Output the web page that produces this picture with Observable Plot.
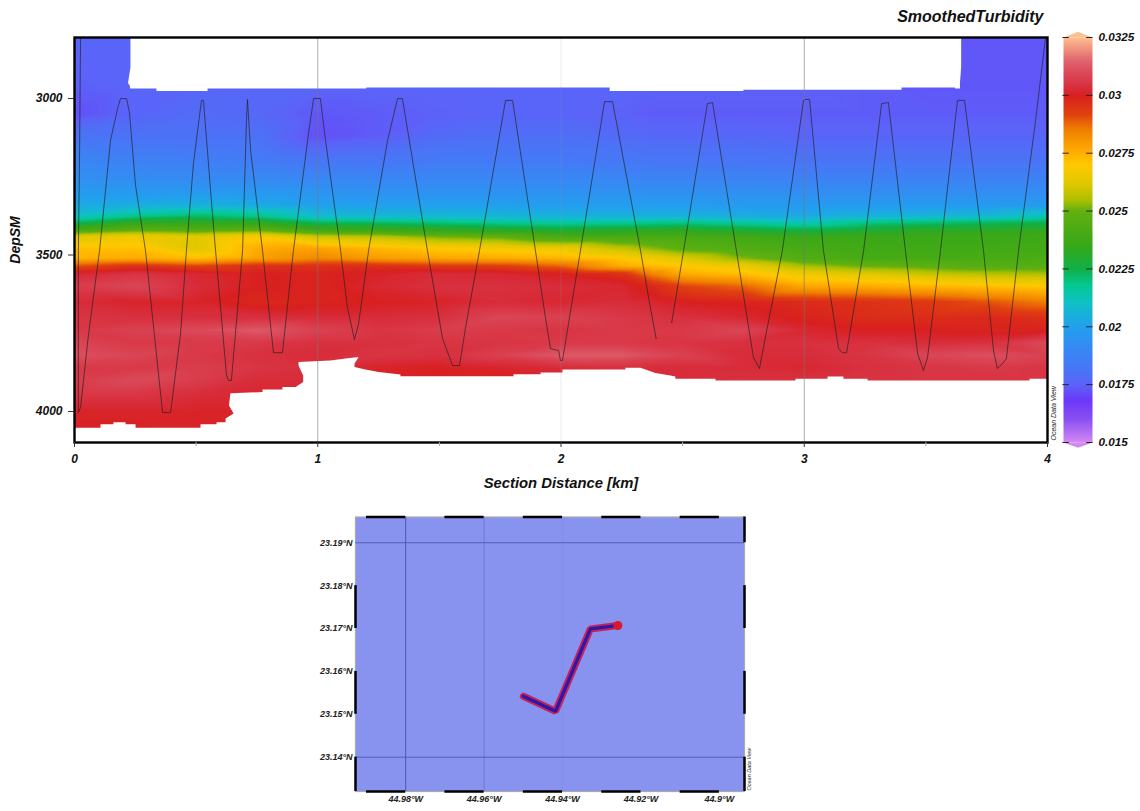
<!DOCTYPE html>
<html>
<head>
<meta charset="utf-8">
<script src="https://cdn.jsdelivr.net/npm/d3@7"></script>
<script src="https://cdn.jsdelivr.net/npm/@observablehq/plot@0.6"></script>
<style>
html,body{margin:0;padding:0;background:#fff}
#page{position:relative;width:1140px;height:811px;overflow:hidden}
#page svg{position:absolute;display:block;background:transparent}
</style>
</head>
<body>
<div id="page"></div>
<script>
// Colour scale
const colorStops = [0.015,0.016,0.0168,0.0175,0.018,0.019,0.02,0.021,0.0218,0.0225,0.0235,0.025,0.0255,0.0262,0.027,0.0275,0.0285,0.0292,0.03,0.0303,0.031,0.0315,0.0325];
const colorHues  = ["#d488f2","#8a50f2","#6c38f8","#5c62f8","#4c72f6","#3888f4","#22a0ee","#10c0c8","#04c890","#10b048","#38a818","#62b010","#b0c000","#e0c800","#ffc800","#ffb000","#f08000","#e04010","#d82020","#d82c3a","#da4a5a","#e0646e","#ffc090"];
const colorTicks = [0.015,0.0175,0.02,0.0225,0.025,0.0275,0.03,0.0325];

// Section grid: turbidity per depth, one list per distance
const gridDepths = [2800,2950,3050,3120,3200,3280,3340,3375,3395,3420,3440,3480,3510,3535,3560,3600,3650,3700,3740,3780,3820,3860,3900,3950,4000,4100];
const gridDistances = [0,0.25,0.5,0.75,1,1.25,1.5,1.75,2,2.25,2.375,2.5,2.75,3,3.25,3.5,3.75,4];
const km000 = [.0176,.0175,.0172,.0181,.0189,.0196,.0203,.0210,.0222,.0240,.0262,.0272,.0274,.0290,.0302,.0307,.0303,.0305,.0306,.0309,.0311,.0306,.0307,.0305,.0301,.0300];
const km025 = [.0176,.0176,.0176,.0180,.0187,.0195,.0204,.0218,.0232,.0248,.0266,.0272,.0276,.0296,.0305,.0309,.0301,.0304,.0308,.0306,.0309,.0306,.0310,.0305,.0301,.0300];
const km050 = [.0176,.0176,.0178,.0180,.0186,.0194,.0205,.0222,.0232,.0245,.0262,.0262,.0272,.0292,.0302,.0303,.0301,.0304,.0310,.0306,.0306,.0307,.0307,.0303,.0301,.0301];
const km075 = [.0176,.0176,.0177,.0180,.0185,.0194,.0203,.0218,.0232,.0248,.0268,.0276,.0278,.0296,.0300,.0300,.0298,.0304,.0313,.0306,.0304,.0305,.0303,.0302,.0301,.0301];
const km100 = [.0176,.0176,.0173,.0172,.0182,.0193,.0200,.0208,.0222,.0238,.0258,.0278,.0283,.0296,.0299,.0299,.0299,.0303,.0308,.0304,.0303,.0304,.0303,.0302,.0301,.0301];
const km125 = [.0176,.0176,.0174,.0174,.0182,.0192,.0200,.0207,.0221,.0236,.0256,.0274,.0279,.0296,.0301,.0302,.0300,.0303,.0305,.0304,.0305,.0301,.0301,.0301,.0301,.0301];
const km150 = [.0176,.0176,.0175,.0178,.0184,.0192,.0200,.0207,.0219,.0233,.0250,.0270,.0277,.0294,.0303,.0304,.0301,.0304,.0307,.0305,.0304,.0300,.0300,.0300,.0300,.0300];
const km175 = [.0176,.0176,.0176,.0179,.0184,.0192,.0200,.0206,.0217,.0230,.0248,.0268,.0276,.0293,.0302,.0304,.0303,.0309,.0306,.0305,.0308,.0301,.0300,.0300,.0300,.0300];
const km200 = [.0176,.0176,.0176,.0179,.0184,.0192,.0199,.0205,.0215,.0228,.0240,.0266,.0274,.0288,.0300,.0303,.0302,.0308,.0305,.0306,.0313,.0303,.0301,.0301,.0301,.0301];
const km225 = [.0176,.0176,.0175,.0178,.0183,.0192,.0199,.0205,.0216,.0230,.0240,.0258,.0270,.0276,.0296,.0302,.0303,.0306,.0306,.0306,.0313,.0304,.0303,.0303,.0303,.0303];
const km2375 = [.0176,.0175,.0174,.0177,.0182,.0191,.0199,.0205,.0217,.0231,.0240,.0253,.0266,.0273,.0284,.0298,.0302,.0305,.0306,.0305,.0310,.0303,.0303,.0303,.0303,.0303];
const km250 = [.0176,.0175,.0174,.0177,.0182,.0191,.0199,.0205,.0218,.0232,.0240,.0248,.0262,.0270,.0276,.0292,.0300,.0304,.0306,.0305,.0308,.0303,.0303,.0303,.0303,.0303];
const km275 = [.0176,.0175,.0174,.0177,.0182,.0191,.0198,.0204,.0215,.0228,.0238,.0244,.0252,.0265,.0272,.0288,.0299,.0302,.0309,.0304,.0303,.0303,.0304,.0304,.0304,.0304];
const km300 = [.0175,.0175,.0174,.0176,.0181,.0190,.0198,.0203,.0212,.0225,.0235,.0240,.0244,.0255,.0265,.0277,.0297,.0299,.0302,.0304,.0303,.0302,.0304,.0304,.0304,.0304];
const km325 = [.0174,.0174,.0174,.0176,.0181,.0190,.0198,.0205,.0218,.0228,.0236,.0238,.0240,.0250,.0262,.0276,.0296,.0297,.0300,.0304,.0305,.0304,.0305,.0305,.0305,.0305];
const km350 = [.0173,.0173,.0174,.0176,.0181,.0190,.0198,.0206,.0220,.0232,.0236,.0238,.0240,.0248,.0258,.0274,.0294,.0297,.0300,.0303,.0309,.0305,.0305,.0305,.0305,.0305];
const km375 = [.0173,.0173,.0174,.0176,.0181,.0190,.0198,.0207,.0222,.0232,.0236,.0238,.0241,.0245,.0256,.0272,.0290,.0298,.0299,.0304,.0311,.0306,.0305,.0305,.0305,.0305];
const km400 = [.0173,.0173,.0174,.0176,.0181,.0190,.0198,.0212,.0224,.0233,.0237,.0239,.0242,.0246,.0255,.0270,.0285,.0296,.0299,.0310,.0308,.0305,.0305,.0305,.0305,.0305];
const gridColumns = [km000,km025,km050,km075,km100,km125,km150,km175,km200,km225,km2375,km250,km275,km300,km325,km350,km375,km400];

// Areas without data
const topMaskKm = [0.23,0.23,0.22,0.228,0.228,0.337,0.337,0.547,0.547,1.2,1.2,2.2,2.2,2.75,2.75,3.4,3.4,3.62,3.62,3.64,3.64,3.645,3.645];
const topMaskDep = [2805,2900,2950,2960,2968,2968,2976,2976,2968,2968,2965,2965,2976,2976,2972,2972,2965,2965,2968,2968,2950,2900,2805];
const bottomMaskKm = [0,0,0.107,0.107,0.16,0.16,0.21,0.21,0.251,0.251,0.518,0.518,0.584,0.584,0.621,0.621,0.654,0.635,0.641,0.773,0.773,0.855,0.855,0.909,0.94,0.94,0.921,0.921,1.052,1.114,1.168,1.151,1.151,1.196,1.25,1.34,1.34,1.805,1.805,1.916,1.916,2.006,2.006,2.265,2.265,2.327,2.347,2.388,2.45,2.47,2.47,2.635,2.635,2.964,2.964,3.096,3.096,3.161,3.161,3.26,3.26,3.926,3.926,4,4];
const bottomMaskDep = [4099,4052,4052,4041,4041,4034,4034,4041,4041,4052,4052,4041,4041,4034,4034,4022,4006,3981,3942,3938,3930,3930,3922,3922,3906,3885,3853,3842,3837,3831,3826,3847,3858,3866,3874,3882,3887,3887,3881,3881,3875,3875,3866,3866,3860,3860,3866,3877,3885,3888,3895,3895,3901,3901,3895,3895,3888,3888,3895,3895,3901,3901,3895,3895,4099];

// CTD track on the section
const trackKm1 = [.025,.021,.016,.016,.025,.058,.103,.148,.177,.189,.214,.226,.251,.292,.362,.395,.436,.46,.489,.522,.53,.567,.58,.625,.633,.645,.691,.707,.711,.724,.773,.818,.855,.9,.962,.983,1.011,1.032,1.094,1.122,1.151,1.168,1.209,1.287,1.328,1.348,1.451,1.513,1.554,1.583,1.607,1.665,1.772,1.801,1.895,1.936,1.957,1.99,1.998,2.006,2.031,2.08,2.179,2.212,2.327,2.36,2.391];
const trackDep1 = [2805,3166,3486,4003,3987,3751,3486,3134,3032,3000,3000,3045,3278,3486,4003,4003,3751,3486,3208,3006,3006,3367,3486,3885,3901,3901,3486,3070,3003,3166,3486,3812,3812,3486,3112,3000,3000,3134,3486,3668,3770,3719,3486,3134,3000,3000,3486,3767,3853,3853,3735,3486,3006,3006,3486,3700,3799,3805,3837,3837,3719,3486,3010,3010,3486,3636,3767];
const trackKm2 = [2.455,2.504,2.602,2.623,2.721,2.791,2.816,2.832,2.91,2.997,3.005,3.022,3.079,3.141,3.157,3.174,3.244,3.318,3.346,3.416,3.466,3.49,3.507,3.56,3.63,3.659,3.737,3.778,3.794,3.819,3.831,3.881,3.951,3.992];
const trackDep2 = [3716,3486,3016,3013,3486,3827,3863,3796,3486,3006,3003,3003,3486,3799,3812,3812,3486,3016,3013,3486,3815,3869,3827,3486,3006,3006,3486,3805,3863,3843,3831,3486,3070,2805];

// Section axes
const sectionXTicks = [0,1,2,3,4];
const sectionXMinor = [0.5,1.5,2.5,3.5];
const sectionYTicks = [3000,3500,4000];
const sectionGridStrong = [1,3];
const sectionGridFaint = [2];

// Map
const shipLon = [-44.9500,-44.9418,-44.9329,-44.9259];
const shipLat = [23.1542,23.1507,23.1699,23.1707];
const mapLonTicks = [-44.98,-44.96,-44.94,-44.92,-44.9];
const mapLatTicks = [23.14,23.15,23.16,23.17,23.18,23.19];
const dashLonStart = [-44.99,-44.97,-44.95,-44.93,-44.91];
const dashLonEnd = [-44.98,-44.96,-44.94,-44.92,-44.90];
const dashLatStart = [23.18,23.16,23.14];
const dashLatEnd = [23.17,23.15,23.132];

const FONT = {fontFamily:"'Liberation Sans',Arial,sans-serif",fontWeight:"bold",fontStyle:"italic",color:"#111"};
const zip = (a,b)=>a.map((v,i)=>({a:v,b:b[i]}));
const gridRows = gridDistances.flatMap((km,c)=>gridDepths.map((dep,r)=>({km,dep,v:gridColumns[c][r]})));
const colorOpt = {type:"linear",domain:colorStops,range:colorHues,clamp:true};
const page = document.getElementById("page");

// ---- Section
const section = Plot.plot({
  width:1060,height:500,marginLeft:74,marginRight:13,marginTop:37,marginBottom:58,
  style:{...FONT,fontSize:"12px"},
  x:{domain:[0,4]},
  y:{domain:[2805,4099],reverse:true},
  color:colorOpt,
  marks:[
    Plot.raster(gridRows,{x:"km",y:"dep",fill:"v",interpolate:"barycentric",x1:0,x2:4,y1:2805,y2:4099,pixelSize:1}),
    Plot.line(zip(topMaskKm,topMaskDep),{x:"a",y:"b",fill:"#fff",stroke:null}),
    Plot.line(zip(bottomMaskKm,bottomMaskDep),{x:"a",y:"b",fill:"#fff",stroke:null}),
    Plot.ruleX(sectionGridStrong,{stroke:"#777",strokeOpacity:.6,strokeWidth:1}),
    Plot.ruleX(sectionGridFaint,{stroke:"#999",strokeOpacity:.2,strokeWidth:1}),
    Plot.line(zip(trackKm1,trackDep1),{x:"a",y:"b",stroke:"#222",strokeOpacity:.75,strokeWidth:.9}),
    Plot.line(zip(trackKm2,trackDep2),{x:"a",y:"b",stroke:"#222",strokeOpacity:.75,strokeWidth:.9}),
    Plot.frame({stroke:"#000",strokeWidth:2.4}),
    Plot.axisX({ticks:sectionXMinor,tickFormat:()=>"",tickSize:4,stroke:"#aaa",label:null}),
    Plot.axisX({ticks:sectionXTicks,tickFormat:d=>String(d),tickSize:5,tickPadding:7,fill:"#111",stroke:"#333",label:null,fontSize:12}),
    Plot.axisY({ticks:sectionYTicks,tickFormat:d=>String(d),tickSize:6,tickPadding:6,fill:"#111",stroke:"#333",label:null,fontSize:12}),
    Plot.text(["Section Distance [km]"],{frameAnchor:"bottom",dy:40.5,text:d=>d,textAnchor:"middle",fontSize:14.8,fill:"#111",lineAnchor:"middle"}),
    Plot.text(["DepSM"],{frameAnchor:"left",dx:-59,rotate:-90,text:d=>d,textAnchor:"middle",fontSize:14,fill:"#111"}),
    Plot.text(["SmoothedTurbidity"],{frameAnchor:"top-right",dx:-4,dy:-21,text:d=>d,textAnchor:"end",lineAnchor:"middle",fontSize:16,fill:"#111"}),
    Plot.text(["Ocean Data View"],{frameAnchor:"bottom-right",dx:8,dy:-2,rotate:-90,text:d=>d,textAnchor:"start",fontSize:7,fontWeight:"normal",fill:"#222"})
  ]
});
section.style.left="0px";section.style.top="0px";
page.appendChild(section);

// ---- Colour bar
const bar = Plot.plot({
  width:80,height:500,marginLeft:3,marginRight:48,marginTop:37,marginBottom:58,
  style:{...FONT,fontSize:"11.7px",overflow:"visible"},
  x:{domain:[0,1],axis:null},
  y:{domain:[0.015,0.0325]},
  color:colorOpt,
  marks:[
    Plot.raster({x1:0,x2:1,y1:0.015,y2:0.0325,width:1,height:405,fill:(x,y)=>y}),
    Plot.line(zip([0,0.5,1],[0.0325,0.03275,0.0325]),{x:"a",y:"b",fill:"#ffc090",stroke:null,clip:false}),
    Plot.line(zip([0,0.5,1],[0.015,0.01477,0.015]),{x:"a",y:"b",fill:"#d488f2",stroke:null,clip:false}),
    Plot.ruleY(colorTicks,{x1:-0.02,x2:0.2,stroke:"#222",strokeWidth:1}),
    Plot.ruleY(colorTicks,{x1:0.8,x2:1.02,stroke:"#222",strokeWidth:1}),
    Plot.axisY({anchor:"right",ticks:colorTicks,tickFormat:d=>String(d),tickSize:0,tickPadding:6,label:null,fill:"#111"})
  ]
});
bar.style.left="1060px";bar.style.top="0px";
page.appendChild(bar);

// ---- Map
const map = Plot.plot({
  width:500,height:311,marginLeft:55,marginRight:56,marginTop:16.5,marginBottom:20,
  style:{...FONT,fontSize:"9px"},
  x:{domain:[-44.9928,-44.8936]},
  y:{domain:[23.132,23.196]},
  marks:[
    Plot.frame({fill:"#8793ef",stroke:"#aaa",strokeWidth:1.2}),
    Plot.ruleX([-44.98],{stroke:"#3f4aa0",strokeOpacity:.8,strokeWidth:1}),
    Plot.ruleX([-44.96],{stroke:"#3f4aa0",strokeOpacity:.35,strokeWidth:1}),
    Plot.ruleX([-44.94],{stroke:"#3f4aa0",strokeOpacity:.08,strokeWidth:1}),
    Plot.ruleY([23.19,23.14],{stroke:"#3f4aa0",strokeOpacity:.7,strokeWidth:1}),
    Plot.line(zip(shipLon,shipLat),{x:"a",y:"b",stroke:"#c8205a",strokeWidth:7,strokeLinejoin:"miter"}),
    Plot.line(zip(shipLon,shipLat),{x:"a",y:"b",stroke:"#2a18a8",strokeWidth:3.2,strokeLinejoin:"miter"}),
    Plot.dot(zip(shipLon.slice(-1),shipLat.slice(-1)),{x:"a",y:"b",r:4.5,fill:"#d81a2a"}),
    Plot.ruleY(zip(dashLonStart,dashLonEnd),{y:23.196,x1:"a",x2:"b",stroke:"#000",strokeWidth:2.5}),
    Plot.ruleY(zip(dashLonStart,dashLonEnd),{y:23.132,x1:"a",x2:"b",stroke:"#000",strokeWidth:2.5}),
    Plot.ruleX(zip(dashLatStart,dashLatEnd),{x:-44.9928,y1:"a",y2:"b",stroke:"#000",strokeWidth:2.5}),
    Plot.ruleX(zip(dashLatStart,dashLatEnd),{x:-44.8936,y1:"a",y2:"b",stroke:"#000",strokeWidth:2.5}),
    Plot.ruleX([{a:23.19,b:23.196}],{x:-44.8936,y1:"a",y2:"b",stroke:"#000",strokeWidth:2.5}),
    Plot.axisX({ticks:mapLonTicks,tickFormat:d=>`${-d}°W`,tickSize:0,tickPadding:4,label:null,fill:"#222"}),
    Plot.axisY({ticks:mapLatTicks,tickFormat:d=>`${d.toFixed(2)}°N`,tickSize:0,tickPadding:3,label:null,fill:"#222"}),
    Plot.text(["Ocean Data View"],{frameAnchor:"bottom-right",dx:6,dy:-1,rotate:-90,text:d=>d,textAnchor:"start",fontSize:5.5,fontWeight:"normal",fill:"#222"})
  ]
});
map.style.left="300px";map.style.top="500px";
page.appendChild(map);
</script>
</body>
</html>
